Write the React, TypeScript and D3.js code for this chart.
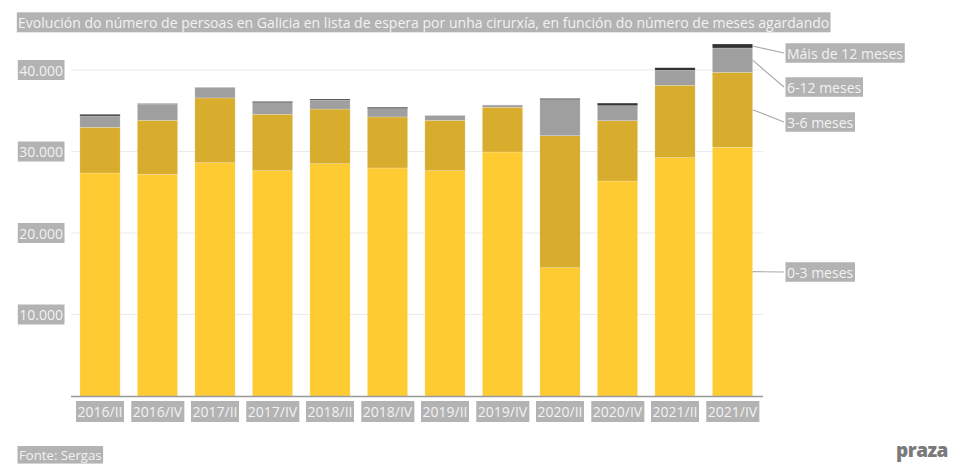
import React, { useEffect, useRef } from "react";
import * as d3 from "d3";

const categories = ["2016/II", "2016/IV", "2017/II", "2017/IV", "2018/II", "2018/IV", "2019/II", "2019/IV", "2020/II", "2020/IV", "2021/II", "2021/IV"];
const s0to3 = [27360, 27200, 28630, 27650, 28500, 27980, 27650, 29940, 15740, 26380, 29240, 30520];
const s3to6 = [5610, 6630, 7940, 6920, 6710, 6260, 6180, 5490, 16200, 7400, 8880, 9200];
const s6to12 = [1390, 2000, 1260, 1420, 1070, 1020, 560, 250, 4420, 1840, 1840, 2980];
const sOver12 = [200, 50, 30, 150, 150, 170, 30, 30, 150, 320, 320, 490];
const seriesNames = ["0-3 meses", "3-6 meses", "6-12 meses", "Máis de 12 meses"];
const seriesColors = ["#fecb32", "#d8ac2c", "#9f9f9f", "#333333"];
const yTicks = [10000, 20000, 30000, 40000];
const titleText = "Evolución do número de persoas en Galicia en lista de espera por unha cirurxía, en función do número de meses agardando";
const sourceText = "Fonte: Sergas";

const W = 970, H = 471;
const FONT = "'Open Sans', 'Noto Sans', sans-serif";
const LBL_BG = "#b3b3b3";
const LBL_FG = "#f2f2f2";

function label(g: any, x: number, y: number, text: string, anchor: string, size: number, padX = 1.5, boxH = 20) {
  const grp = g.append("g");
  const t = grp.append("text")
    .attr("x", x).attr("y", y)
    .attr("text-anchor", anchor)
    .attr("dominant-baseline", "central")
    .attr("font-family", FONT)
    .attr("font-size", size)
    .attr("fill", LBL_FG)
    .text(text);
  const bb = (t.node() as SVGTextElement).getBBox();
  grp.insert("rect", "text")
    .attr("x", bb.x - padX).attr("y", y - boxH / 2)
    .attr("width", bb.width + padX * 2).attr("height", boxH)
    .attr("fill", LBL_BG);
}

export default function App() {
  const ref = useRef<SVGSVGElement>(null);
  useEffect(() => {
    const svg = d3.select(ref.current);
    svg.selectAll("*").remove();
    const series = [s0to3, s3to6, s6to12, sOver12];
    const x = d3.scaleBand().domain(categories).range([71.25, 761.25]).paddingInner(0.3).paddingOuter(0.15);
    const y = d3.scaleLinear().domain([0, 40000]).range([396, 70]);

    // gridlines
    svg.append("g").selectAll("line").data(yTicks).join("line")
      .attr("x1", 71).attr("x2", 763)
      .attr("y1", d => y(d)).attr("y2", d => y(d))
      .attr("stroke", "#ebebeb").attr("stroke-width", 1);

    // stacked bars
    const rows = categories.map((c, i) => ({ cat: c, v: series.map(s => s[i]) }));
    const stack = d3.stack<any>().keys([0, 1, 2, 3] as any).value((d: any, k: any) => d.v[k]);
    const stacked = stack(rows);
    stacked.forEach((layer, li) => {
      svg.append("g").selectAll("rect").data(layer).join("rect")
        .attr("x", (d: any) => x(d.data.cat)!)
        .attr("width", x.bandwidth())
        .attr("y", (d: any) => y(d[1]))
        .attr("height", (d: any) => Math.max(0, y(d[0]) - y(d[1])))
        .attr("fill", seriesColors[li])
        .attr("stroke", "#ffffff").attr("stroke-opacity", 0.35).attr("stroke-width", 0.6);
    });

    // baseline
    svg.append("line").attr("x1", 71).attr("x2", 763).attr("y1", 396.5).attr("y2", 396.5)
      .attr("stroke", "#999").attr("stroke-width", 1.5);

    // y labels
    yTicks.forEach(t => label(svg, 63, y(t), d3.format(",")(t).replace(/,/g, "."), "end", 14));

    // x labels
    categories.forEach(c => label(svg, x(c)! + x.bandwidth() / 2, 411.5, c, "middle", 14, 1.5, 21));

    // legend labels with leader lines
    const last = stacked.map(l => l[l.length - 1]);
    const labelY = [272, 122, 87, 53];
    const barRight = x(categories[categories.length - 1])! + x.bandwidth();
    last.forEach((d: any, i) => {
      const mid = i === 3 ? y(d[1]) + 2 : (y(d[0]) + y(d[1])) / 2;
      svg.append("line")
        .attr("x1", barRight).attr("y1", mid)
        .attr("x2", 784).attr("y2", labelY[i])
        .attr("stroke", "#aaa").attr("stroke-width", 1.2);
      label(svg, 787, labelY[i], seriesNames[i], "start", 14, 1.5, 19.5);
    });

    // title
    label(svg, 18, 22.3, titleText, "start", 14.05, 1.2, 20);
    // source
    label(svg, 19, 454.8, sourceText, "start", 13.2, 1.5, 17.5);

    // logo
    svg.append("text").attr("x", 922).attr("y", 457).attr("text-anchor", "middle")
      .attr("font-family", FONT).attr("font-weight", 800).attr("font-size", 19)
      .attr("fill", "#7a7a7a").attr("letter-spacing", -0.5).text("praza");
  }, []);
  return (
    <svg ref={ref} width={W} height={H} style={{ position: "absolute", left: 0, top: 0, background: "#fff" }} />
  );
}
